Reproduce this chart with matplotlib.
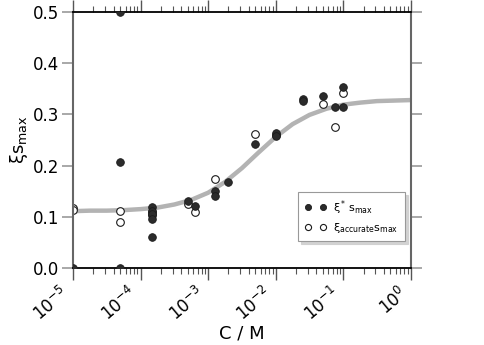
import matplotlib
matplotlib.use("Agg")
import matplotlib.pyplot as plt

plt.rcParams["mathtext.default"] = "regular"
plt.rcParams["font.family"] = "DejaVu Sans"

# xi* s_max (filled symbols)
star_conc = [1e-5, 5e-5, 5e-5, 5e-5,
             1.5e-4, 1.5e-4, 1.5e-4, 1.5e-4, 1.5e-4,
             5e-4, 6.4e-4, 1.25e-3, 1.25e-3, 2e-3,
             5e-3, 1e-2, 1e-2, 0.025, 0.025,
             0.05, 0.075, 0.1, 0.1]
star_val = [0.0, 0.5, 0.207, 0.0,
            0.120, 0.112, 0.105, 0.095, 0.060,
            0.131, 0.121, 0.151, 0.140, 0.167,
            0.242, 0.263, 0.258, 0.330, 0.327,
            0.336, 0.315, 0.353, 0.315]

# xi_accurate s_max (open symbols)
acc_conc = [1e-5, 1e-5, 5e-5, 5e-5, 1.5e-4, 1.5e-4,
            5e-4, 6.4e-4, 1.25e-3, 5e-3, 1e-2,
            0.05, 0.075, 0.1]
acc_val = [0.117, 0.113, 0.111, 0.090, 0.109, 0.104,
           0.125, 0.110, 0.173, 0.262, 0.260,
           0.320, 0.276, 0.341]

# fitted curve, every quarter decade
fit_conc = [1e-5, 1.78e-5, 3.16e-5, 5.62e-5, 1e-4, 1.78e-4, 3.16e-4, 5.62e-4,
            1e-3, 1.78e-3, 3.16e-3, 5.62e-3, 1e-2, 1.78e-2, 3.16e-2, 5.62e-2,
            0.1, 0.178, 0.316, 0.562, 1.0]
fit_val = [0.111, 0.112, 0.112, 0.113, 0.115, 0.118, 0.124, 0.133,
           0.147, 0.168, 0.195, 0.226, 0.256, 0.281, 0.299, 0.311,
           0.319, 0.323, 0.326, 0.327, 0.328]

xticks = [1e-5, 1e-4, 1e-3, 1e-2, 1e-1, 1e0]
xticklabels = [r"$10^{-5}$", r"$10^{-4}$", r"$10^{-3}$",
               r"$10^{-2}$", r"$10^{-1}$", r"$10^{0}$"]
yticks = [0.0, 0.1, 0.2, 0.3, 0.4, 0.5]

fig = plt.figure(figsize=(4.84, 3.45), dpi=100)
ax = fig.add_axes([0.1508, 0.2232, 0.698, 0.742])

ax.plot(fit_conc, fit_val, color="#b3b3b3", lw=3.2, solid_capstyle="butt", zorder=1)
ax.plot(star_conc, star_val, "o", ls="none", color="#2b2b2b", mec="#1a1a1a",
        ms=5.5, mew=0.6, label=r"$\xi^*\,s_{max}$", zorder=3)
ax.plot(acc_conc, acc_val, "o", ls="none", mfc="white", mec="#1a1a1a",
        ms=5.5, mew=0.8, label=r"$\xi_{accurate}s_{max}$", zorder=2)

ax.set_xscale("log")
ax.set_xlim(1e-5, 1e0)
ax.set_ylim(0, 0.5)

ax.set_xticks(xticks)
ax.set_xticklabels(xticklabels, rotation=40, ha="right", fontsize=12)
ax.set_yticks(yticks)
ax.set_yticklabels([f"{v:.1f}" for v in yticks], fontsize=12)

ax.tick_params(axis="x", which="major", direction="out", top=True, bottom=True,
               length=8.5, width=1.0, color="#555555", pad=3)
ax.tick_params(axis="x", which="minor", direction="out", top=True, bottom=True,
               length=4.5, width=0.8, color="#555555")
ax.tick_params(axis="y", which="major", direction="out", left=True, right=True,
               length=8, width=1.2, color="#999999", pad=2)
ax.tick_params(axis="y", which="minor", left=False, right=False)

for side in ["top", "bottom"]:
    ax.spines[side].set_color("black")
    ax.spines[side].set_linewidth(1.3)
for side in ["left", "right"]:
    ax.spines[side].set_color("#666666")
    ax.spines[side].set_linewidth(1.5)

ax.set_xlabel("C / M", fontsize=13, labelpad=0)
ax.set_ylabel(r"$\xi s_{max}$", fontsize=13, labelpad=2)

leg = ax.legend(loc="lower right", bbox_to_anchor=(0.982, 0.105), numpoints=2,
                fontsize=8, frameon=True, fancybox=False, borderaxespad=0,
                shadow={"color": "#cfcfcf", "alpha": 0.9},
                edgecolor="#999999", borderpad=0.55, handlelength=2.0,
                labelspacing=0.4, handletextpad=0.6, markerscale=0.8)
leg.get_frame().set_linewidth(0.8)

fig.savefig("out.png", dpi=100)
